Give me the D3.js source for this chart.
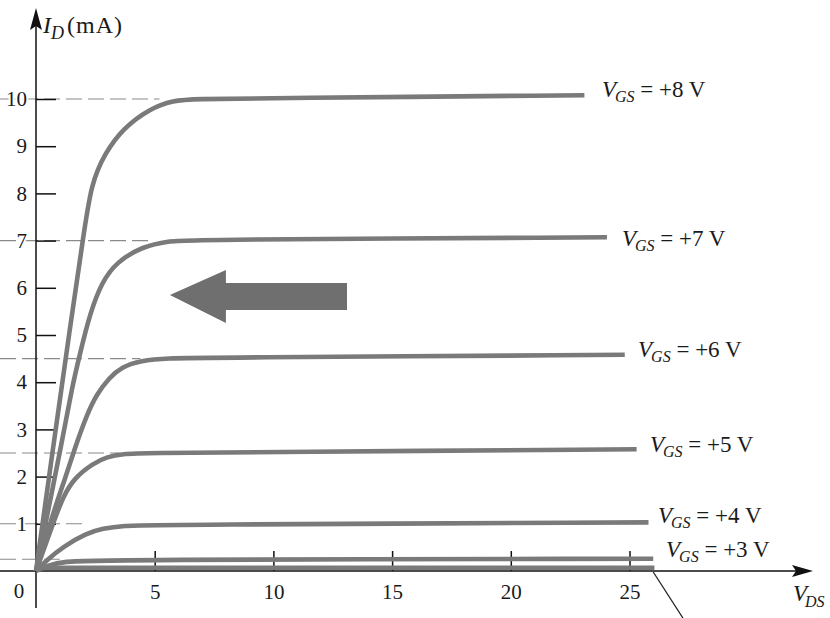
<!DOCTYPE html>
<html>
<head>
<meta charset="utf-8">
<script src="https://cdn.jsdelivr.net/npm/d3@7"></script>
<style>
  html, body { margin: 0; padding: 0; background: #fff; }
  svg { display: block; }
  text { font-family: "Liberation Serif", "DejaVu Serif", serif; fill: #1a1a1a; }
</style>
</head>
<body>
<svg id="chart" width="830" height="618"></svg>
<script>
// ---------- data ----------
const vgsLabels = ["+8", "+7", "+6", "+5", "+4", "+3"];
const curve8 = [[0,0],[0.8,2.9],[1.43,5.15],[2.0,7.1],[2.32,8.2],[2.9,8.85],[3.67,9.38],[4.8,9.8],[5.8,9.97],[6.6,10.0],[10,10.02],[23.1,10.08]];
const curve7 = [[0,0],[1.2,3.0],[1.5,3.85],[1.85,4.6],[2.27,5.45],[2.77,6.12],[3.4,6.55],[4.5,6.88],[5.6,6.99],[6.5,7.02],[24.05,7.07]];
const curve6 = [[0,0],[0.72,1.23],[1.22,1.95],[1.6,2.55],[2.13,3.3],[2.56,3.75],[3.1,4.1],[3.6,4.32],[4.4,4.46],[5.6,4.51],[7,4.52],[24.8,4.58]];
const curve5 = [[0,0],[0.87,1.22],[1.15,1.57],[1.57,1.95],[2.4,2.28],[3.0,2.42],[3.67,2.48],[4.5,2.5],[10,2.52],[25.3,2.58]];
const curve4 = [[0,0],[0.45,0.23],[1.15,0.52],[2.13,0.8],[2.8,0.9],[3.67,0.96],[5,0.98],[25.8,1.03]];
const curve3 = [[0,0],[0.5,0.12],[1.2,0.2],[2.5,0.24],[26.0,0.26]];
const curveVT = [[0,0.07],[26.05,0.07]];
const curves = [curve8, curve7, curve6, curve5, curve4, curve3, curveVT];

const satLevels = [10, 7, 4.5, 2.5, 1, 0.25];
const satDashEnds = [5.2, 4.8, 4.4, 3.5, 2.1, 1.0];

const labelVds = [23.84, 24.68, 25.36, 25.86, 26.2, 26.54];
const labelId  = [10.04, 6.89, 4.53, 2.52, 1.02, 0.30];

const yTicks = [1,2,3,4,5,6,7,8,9,10];
const xTicks = [5,10,15,20,25];

// big arrow annotation (tip, head base, shaft end) in data units
const arrowTip = [5.64, 5.85];
const arrowHeadBase = 8.0;
const arrowShaftEnd = 13.1;

// ---------- layout ----------
const svg = d3.select("#chart");
const x = d3.scaleLinear().domain([0, 25]).range([36, 629.5]);
const y = d3.scaleLinear().domain([0, 10]).range([571, 99]);
const curveColor = "#7a7a7a";

// dashed saturation reference lines
svg.append("g").selectAll("line").data(satLevels).join("line")
  .attr("x1", 0).attr("x2", (d,i) => x(satDashEnds[i]))
  .attr("y1", d => y(d)).attr("y2", d => y(d))
  .attr("stroke", "#8a8a8a").attr("stroke-width", 1.1)
  .attr("stroke-dasharray", "16,6");

// axes lines
svg.append("line").attr("x1", 0).attr("x2", 800).attr("y1", y(0)).attr("y2", y(0))
  .attr("stroke", "#111").attr("stroke-width", 1.5);
svg.append("line").attr("x1", x(0)).attr("x2", x(0)).attr("y1", 608).attr("y2", 20)
  .attr("stroke", "#111").attr("stroke-width", 1.5);
svg.append("path").attr("d", `M813,${y(0)} L792,${y(0)-6} L796,${y(0)} L792,${y(0)+6} Z`).attr("fill", "#111");
svg.append("path").attr("d", `M${x(0)},8 L${x(0)-6},30 L${x(0)},26 L${x(0)+6},30 Z`).attr("fill", "#111");

// y axis ticks (inside) and labels
const yAxis = d3.axisLeft(y).tickValues(yTicks).tickSizeInner(-20).tickSizeOuter(0).tickPadding(9).tickFormat(d3.format("d"));
const gy = svg.append("g").attr("transform", `translate(${x(0)},0)`).call(yAxis);
gy.select(".domain").remove();
gy.selectAll(".tick line").attr("stroke", "#111").attr("stroke-width", 1.5);
gy.selectAll(".tick text").attr("font-size", 21).attr("font-family", "Liberation Serif")
  .attr("fill", "#1a1a1a").attr("stroke", "#fff").attr("stroke-width", 4).attr("paint-order", "stroke");

// x axis ticks (inside) and labels
const xAxis = d3.axisBottom(x).tickValues(xTicks).tickSizeInner(-20).tickSizeOuter(0).tickPadding(13).tickFormat(d3.format("d"));
const gx = svg.append("g").attr("transform", `translate(0,${y(0)})`).call(xAxis);
gx.select(".domain").remove();
gx.selectAll(".tick line").attr("stroke", "#111").attr("stroke-width", 1.5);
gx.selectAll(".tick text").attr("font-size", 21).attr("font-family", "Liberation Serif").attr("fill", "#1a1a1a");
svg.append("text").attr("x", x(0) - 17).attr("y", y(0) + 27).attr("text-anchor", "middle")
  .attr("font-size", 21).text("0");

// curves
const line = d3.line().x(d => x(d[0])).y(d => y(d[1])).curve(d3.curveBasis);
svg.append("g").selectAll("path").data(curves).join("path")
  .attr("d", line).attr("fill", "none").attr("stroke", curveColor)
  .attr("stroke-width", 4.6).attr("stroke-linecap", "butt").attr("stroke-linejoin", "round");

// VGS labels
const lab = svg.append("g").selectAll("text").data(vgsLabels).join("text")
  .attr("x", (d,i) => x(labelVds[i])).attr("y", (d,i) => y(labelId[i]))
  .attr("font-size", 23);
lab.append("tspan").attr("font-style", "italic").text("V");
lab.append("tspan").attr("font-style", "italic").attr("font-size", 16).attr("dy", 5).attr("dx", -1).text("GS");
lab.append("tspan").attr("dy", -5).text(d => " = " + d + " V");

// pointer line to threshold curve
svg.append("line").attr("x1", x(26.0)).attr("y1", y(0) + 1).attr("x2", x(27.25)).attr("y2", 618)
  .attr("stroke", "#222").attr("stroke-width", 1.3);

// big arrow
const tipX = x(arrowTip[0]), tipY = y(arrowTip[1]);
const baseX = x(arrowHeadBase), endX = x(arrowShaftEnd);
svg.append("path")
  .attr("d", `M${tipX},${tipY} L${baseX},${tipY-25} L${baseX},${tipY-12} L${endX},${tipY-12} L${endX},${tipY+15} L${baseX},${tipY+15} L${baseX},${tipY+28} Z`)
  .attr("fill", "#6f6f6f");

// axis titles
const yt = svg.append("text").attr("x", 43).attr("y", 33).attr("font-size", 24);
yt.append("tspan").attr("font-style", "italic").text("I");
yt.append("tspan").attr("font-style", "italic").attr("font-size", 18).attr("dy", 6).text("D");
yt.append("tspan").attr("dy", -6).attr("dx", 3).attr("letter-spacing", 1).text("(mA)");

const xt = svg.append("text").attr("x", 793).attr("y", 601).attr("font-size", 23);
xt.append("tspan").attr("font-style", "italic").text("V");
xt.append("tspan").attr("font-style", "italic").attr("font-size", 16).attr("dy", 6).attr("dx", -2).text("DS");
</script>
</body>
</html>
